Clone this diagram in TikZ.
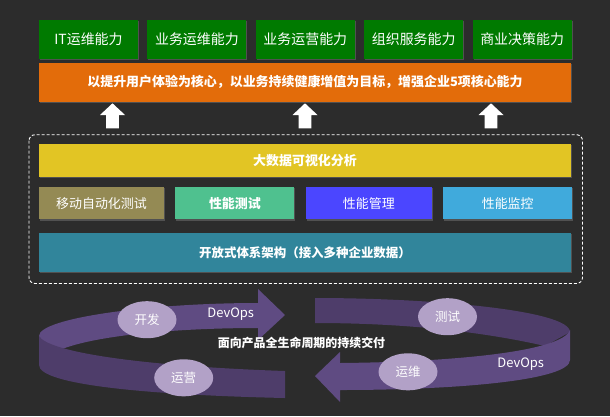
\documentclass[tikz,border=0pt]{standalone}
\usepackage{fontspec}
\setmainfont{Noto Sans CJK SC}
\usetikzlibrary{positioning, shapes.geometric, shadows}
\definecolor{bgdark}{RGB}{44,44,44}
\definecolor{capgreen}{RGB}{0,122,0}
\definecolor{goalorange}{RGB}{227,108,10}
\definecolor{bigyellow}{RGB}{226,197,36}
\definecolor{mobolive}{RGB}{148,138,84}
\definecolor{perfgreen}{RGB}{79,193,143}
\definecolor{mgmtblue}{RGB}{75,70,255}
\definecolor{monblue}{RGB}{64,170,220}
\definecolor{archteal}{RGB}{49,133,155}
\definecolor{ringlight}{RGB}{95,75,130}
\definecolor{ringdark}{RGB}{78,61,106}
\definecolor{stagefill}{RGB}{178,161,199}
\tikzset{
    basicbox/.style={
        rectangle,
        inner sep=0pt,
        text=white,
        align=center,
        drop shadow={shadow xshift=1bp, shadow yshift=-1.2bp, opacity=0.45}
    },
    capbox/.style={
        basicbox,
        fill=capgreen,
        minimum width=99bp,
        minimum height=38.7bp,
        font=\fontsize{14}{16}\selectfont
    },
    widebar/.style={
        basicbox,
        minimum width=532bp,
        font=\fontsize{13}{15}\selectfont\bfseries
    },
    layerbox/.style={
        basicbox,
        minimum height=32.3bp,
        font=\fontsize{13}{15}\selectfont
    },
    % DevOps ring
    stage/.style={
        ellipse,
        fill=stagefill,
        text=white,
        inner sep=0pt,
        minimum width=59bp,
        minimum height=37bp,
        font=\fontsize{12.5}{14}\selectfont
    },
    ringtext/.style={
        text=white,
        inner sep=0pt,
        font=\fontsize{13}{15}\selectfont
    },
    framebox/.style={
        draw=white,
        line width=0.9bp,
        dash pattern=on 3bp off 2bp,
        rounded corners=6bp
    }
}
\begin{document}
\begin{tikzpicture}[x=1bp, y=-1bp]
    \useasboundingbox (0,0) rectangle (610,416);
    \fill[bgdark] (0,0) rectangle (610,416);

    % five capabilities
    \node[capbox] (itops) at (88.5,39.3) {IT运维能力};
    \node[capbox, right=9bp of itops] (bizops) {业务运维能力};
    \node[capbox, right=9bp of bizops] (bizrun) {业务运营能力};
    \node[capbox, right=9bp of bizrun] (orgsvc) {组织服务能力};
    \node[capbox, right=9bp of orgsvc] (bizdec) {商业决策能力};

    \node[widebar, fill=goalorange, minimum height=39bp] (goal) at (305,82.2)
        {以提升用户体验为核心，以业务持续健康增值为目标，增强企业5项核心能力};

    \foreach \ax in {112.5,305,491}
        \fill[white] (\ax-6.3,128.3) -- (\ax-6.3,115) -- (\ax-12.5,115) -- (\ax,103.3)
            -- (\ax+12.5,115) -- (\ax+6.3,115) -- (\ax+6.3,128.3) -- cycle;

    % platform
    \draw[framebox] (29,134.7) rectangle (582.5,283.5);
    \node[widebar, fill=bigyellow, minimum height=32.7bp] (bigdata) at (305,160.3) {大数据可视化分析};
    \node[layerbox, fill=mobolive, minimum width=125bp] (mobile) at (101.5,203.2) {移动自动化测试};
    \node[layerbox, fill=perfgreen, minimum width=119bp, right=11bp of mobile,
        font=\fontsize{13}{15}\selectfont\bfseries] (perftest) {性能测试};
    \node[layerbox, fill=mgmtblue, minimum width=126bp, right=11bp of perftest] (perfmgmt) {性能管理};
    \node[layerbox, fill=monblue, minimum width=129bp, right=11bp of perfmgmt] (perfmon) {性能监控};
    \node[widebar, fill=archteal, minimum height=38.7bp,
        font=\fontsize{12.5}{15}\selectfont\bfseries] (arch) at (305,252.3) {开放式体系架构（接入多种企业数据）};

    % ring, back parts first
    \fill[ringlight] (39,336) .. controls (39,318) and (150,303) .. (258,303) -- (258,289) -- (285,315)
        -- (258,340) -- (258,328) .. controls (180,328) and (90,335) .. (55,352) -- (39,345) -- cycle;
    \fill[ringdark] (315,298) .. controls (430,298) and (570,310) .. (570,332) -- (545,346)
        .. controls (480,331) and (400,323) .. (315,323) -- cycle;
    \fill[ringdark] (39,336) .. controls (48,352) and (140,366) .. (285,371) -- (285,398)
        .. controls (150,395) and (39,385) .. (39,365) -- cycle;
    \fill[ringlight] (570,330) .. controls (562,352) and (450,362) .. (340,363) -- (340,352) -- (315,376)
        -- (340,402) -- (340,390) .. controls (460,390) and (570,380) .. (570,360) -- cycle;

    \node[stage] (dev) at (147,319.7) {开发};
    \node[stage] (test) at (447.5,316.7) {测试};
    \node[stage] (ops) at (408,371.8) {运维};
    \node[stage] (run) at (183.7,377.8) {运营};
    \node[ringtext] (devops1) at (230.7,314) {DevOps};
    \node[ringtext] (devops2) at (520.7,364.3) {DevOps};
    \node[ringtext, font=\fontsize{12}{14}\selectfont\bfseries] (delivery) at (301.5,343.3) {面向产品全生命周期的持续交付};
\end{tikzpicture}
\end{document}
